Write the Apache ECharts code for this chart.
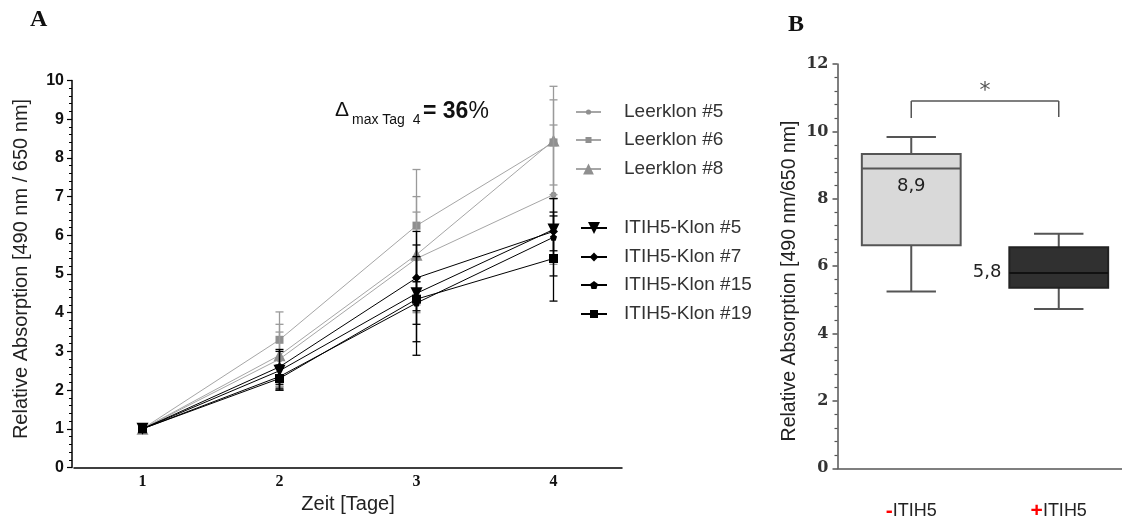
<!DOCTYPE html>
<html>
<head>
<meta charset="utf-8">
<script src="https://cdn.jsdelivr.net/npm/echarts@6/dist/echarts.min.js"></script>
<style>
  html, body { margin: 0; padding: 0; background: #ffffff; }
  #chart { width: 1122px; height: 521px; }
</style>
</head>
<body>
<div id="chart"></div>
<script>
// Panel A: growth curves, relative absorption per day (mean and SD)
const days = ['1', '2', '3', '4'];

const leerklon5 = [1.0, 2.8, 5.4, 7.05];
const leerklon5Sd = [0.05, 0.7, 1.2, 1.8];
const leerklon6 = [1.0, 3.3, 6.25, 8.4];
const leerklon6Sd = [0.05, 0.72, 1.45, 1.1];
const leerklon8 = [1.0, 2.9, 5.5, 8.45];
const leerklon8Sd = [0.08, 0.8, 1.5, 1.4];

const itih5Klon5 = [1.0, 2.5, 4.5, 6.15];
const itih5Klon5Sd = [0.05, 0.5, 1.6, 0.8];
const itih5Klon7 = [1.0, 2.6, 4.9, 6.1];
const itih5Klon7Sd = [0.06, 0.45, 0.85, 0.5];
const itih5Klon15 = [1.0, 2.35, 4.25, 5.95];
const itih5Klon15Sd = [0.05, 0.3, 0.55, 1.0];
const itih5Klon19 = [1.0, 2.3, 4.35, 5.4];
const itih5Klon19Sd = [0.07, 0.3, 1.1, 1.1];

// Panel B: day-4 box plots [min, q1, median, q3, max]
const boxCategories = ['-ITIH5', '+ITIH5'];
const boxWithout = [5.25, 6.62, 8.9, 9.33, 9.83];
const boxWith = [4.73, 5.36, 5.8, 6.56, 6.96];
// significance bracket: [fromIndex, toIndex, top, leftEnd, rightEnd]
const bracket = [0, 1, 10.9, 10.4, 10.43];
const bracketMark = '*';

const GREY_LINE = '#a6a6a6';
const GREY_MARK = '#8f8f8f';
const BLACK = '#000000';

function lineSeries(name, values, color, markColor, symbol, size, rotate, z) {
  return {
    type: 'line', name: name, data: values,
    xAxisIndex: 0, yAxisIndex: 0, z: z,
    symbol: symbol, symbolSize: size, symbolRotate: rotate || 0,
    showAllSymbol: true,
    lineStyle: { color: color, width: 1 },
    itemStyle: { color: markColor },
    emphasis: { disabled: true },
    animation: false
  };
}

function errorBars(name, values, sds, color, z) {
  return {
    type: 'custom', name: name, xAxisIndex: 0, yAxisIndex: 0, z: z, silent: true,
    data: values.map(function (v, i) { return [i, v + sds[i], v - sds[i]]; }),
    renderItem: function (params, api) {
      const hi = api.coord([api.value(0), api.value(1)]);
      const lo = api.coord([api.value(0), api.value(2)]);
      const w = 4;
      const style = { stroke: color, lineWidth: 1.3 };
      return {
        type: 'group',
        children: [
          { type: 'line', shape: { x1: hi[0], y1: hi[1], x2: lo[0], y2: lo[1] }, style: style },
          { type: 'line', shape: { x1: hi[0] - w, y1: hi[1], x2: hi[0] + w, y2: hi[1] }, style: style },
          { type: 'line', shape: { x1: lo[0] - w, y1: lo[1], x2: lo[0] + w, y2: lo[1] }, style: style }
        ]
      };
    },
    animation: false
  };
}

const boxFill = ['#d9d9d9', '#303030'];
const boxStroke = ['#555555', '#222222'];

const boxSeries = {
  type: 'custom', xAxisIndex: 1, yAxisIndex: 1, silent: true, z: 3,
  data: [[0].concat(boxWithout), [1].concat(boxWith)],
  renderItem: function (params, api) {
    const idx = api.value(0);
    const pMin = api.coord([idx, api.value(1)]);
    const pQ1 = api.coord([idx, api.value(2)]);
    const pMed = api.coord([idx, api.value(3)]);
    const pQ3 = api.coord([idx, api.value(4)]);
    const pMax = api.coord([idx, api.value(5)]);
    const band = api.size([1, 0])[0];
    const bw = band * 0.67;
    const cw = bw * 0.5;
    const cx = pMed[0];
    const line = { stroke: '#555555', lineWidth: 2 };
    const label = String(api.value(3).toFixed(1)).replace('.', ',');
    const children = [
      { type: 'line', shape: { x1: cx, y1: pMax[1], x2: cx, y2: pQ3[1] }, style: line },
      { type: 'line', shape: { x1: cx - cw / 2, y1: pMax[1], x2: cx + cw / 2, y2: pMax[1] }, style: line },
      { type: 'line', shape: { x1: cx, y1: pQ1[1], x2: cx, y2: pMin[1] }, style: line },
      { type: 'line', shape: { x1: cx - cw / 2, y1: pMin[1], x2: cx + cw / 2, y2: pMin[1] }, style: line },
      { type: 'rect', shape: { x: cx - bw / 2, y: pQ3[1], width: bw, height: pQ1[1] - pQ3[1] },
        style: { fill: boxFill[idx], stroke: boxStroke[idx], lineWidth: 2 } },
      { type: 'line', shape: { x1: cx - bw / 2, y1: pMed[1], x2: cx + bw / 2, y2: pMed[1] },
        style: { stroke: idx === 0 ? '#555555' : '#111111', lineWidth: 2 } }
    ];
    if (idx === 0) {
      children.push({ type: 'text', x: cx, y: pMed[1] + 18,
        style: { text: label, fill: '#222', font: '18px "DejaVu Sans"', align: 'center', verticalAlign: 'middle' } });
    } else {
      children.push({ type: 'text', x: cx - bw / 2 - 8, y: pMed[1] - 1,
        style: { text: label, fill: '#222', font: '18px "DejaVu Sans"', align: 'right', verticalAlign: 'middle' } });
    }
    return { type: 'group', children: children };
  },
  animation: false
};

const bracketSeries = {
  type: 'custom', xAxisIndex: 1, yAxisIndex: 1, silent: true, z: 3,
  data: [bracket],
  renderItem: function (params, api) {
    const a = api.coord([api.value(0), api.value(2)]);
    const b = api.coord([api.value(1), api.value(2)]);
    const aEnd = api.coord([api.value(0), api.value(3)]);
    const bEnd = api.coord([api.value(1), api.value(4)]);
    const st = { stroke: '#555555', lineWidth: 1.5 };
    return {
      type: 'group',
      children: [
        { type: 'line', shape: { x1: a[0], y1: a[1], x2: b[0], y2: b[1] }, style: st },
        { type: 'line', shape: { x1: a[0], y1: a[1], x2: aEnd[0], y2: aEnd[1] }, style: st },
        { type: 'line', shape: { x1: b[0], y1: b[1], x2: bEnd[0], y2: bEnd[1] }, style: st },
        { type: 'text', x: (a[0] + b[0]) / 2, y: a[1] - 10,
          style: { text: bracketMark, fill: '#555', font: '22px "DejaVu Sans"', align: 'center', verticalAlign: 'middle' } }
      ]
    };
  },
  animation: false
};

const pentagon = 'path://M0,-10 L9.5,-3.1 L5.9,8.1 L-5.9,8.1 L-9.5,-3.1 Z';

// one legend block per entry so that each icon keeps its own marker size
function legendEntry(name, left, top, iconH, iconW, textPad) {
  return {
    data: [name], orient: 'vertical', left: left, top: top, padding: 0,
    itemWidth: iconW, itemHeight: iconH, selectedMode: false,
    textStyle: { color: '#333333', fontSize: 19, lineHeight: 20, fontFamily: 'Liberation Sans', padding: [0, 0, 0, textPad] }
  };
}

const option = {
  backgroundColor: '#ffffff',
  animation: false,
  legend: [
    legendEntry('Leerklon #5', 575, 102, 6.5, 25, 18),
    legendEntry('Leerklon #6', 575, 130, 7.5, 25, 18),
    legendEntry('Leerklon #8', 575, 159, 13.5, 25, 18),
    legendEntry('ITIH5-Klon #5', 580, 218, 15, 26, 12),
    legendEntry('ITIH5-Klon #7', 580, 247, 11, 26, 12),
    legendEntry('ITIH5-Klon #15', 580, 275, 10, 26, 12),
    legendEntry('ITIH5-Klon #19', 580, 304, 10, 26, 12)
  ],
  grid: [
    { left: 74, width: 548, top: 80.5, bottom: 53.5, containLabel: false, outerBoundsMode: 'none' },
    { left: 837.5, width: 295, top: 64, bottom: 52.7, containLabel: false, outerBoundsMode: 'none' }
  ],
  xAxis: [
    {
      gridIndex: 0, type: 'category', data: days, boundaryGap: true,
      name: 'Zeit [Tage]', nameLocation: 'middle', nameGap: 27,
      nameTextStyle: { color: '#222', fontSize: 20, fontFamily: 'Liberation Sans' },
      axisLine: { lineStyle: { color: BLACK, width: 1.5 } },
      axisTick: { alignWithLabel: true, length: 5, lineStyle: { color: BLACK, width: 1.2 } },
      axisLabel: { color: '#111', fontSize: 16, fontWeight: 'bold', fontFamily: 'Liberation Serif', margin: 6 },
      splitLine: { show: false }
    },
    {
      gridIndex: 1, type: 'category', data: boxCategories, boundaryGap: true,
      axisLine: { lineStyle: { color: '#555', width: 1.5 } },
      axisTick: { alignWithLabel: true, length: 6, lineStyle: { color: '#555', width: 1.5 } },
      axisLabel: {
        margin: 32,
        formatter: function (v) {
          return '{s|' + v.charAt(0) + '}{t|' + v.slice(1) + '}';
        },
        rich: {
          s: { color: '#ff0000', fontSize: 21, fontWeight: 'bold', fontFamily: 'Liberation Sans' },
          t: { color: '#222', fontSize: 18, fontFamily: 'Liberation Sans' }
        }
      },
      splitLine: { show: false }
    }
  ],
  yAxis: [
    {
      gridIndex: 0, type: 'value', min: 0, max: 10, interval: 1, offset: 2,
      axisLine: { show: true, lineStyle: { color: BLACK, width: 1.5 } },
      axisTick: { show: true, length: 5, lineStyle: { color: BLACK, width: 1.2 } },
      minorTick: { show: true, splitNumber: 5, length: 3, lineStyle: { color: BLACK, width: 1 } },
      axisLabel: { color: '#111', fontSize: 16, fontWeight: 'bold', fontFamily: 'Liberation Sans', margin: 8 },
      splitLine: { show: false }, minorSplitLine: { show: false }
    },
    {
      gridIndex: 1, type: 'value', min: 0, max: 12, interval: 2,
      axisLine: { show: true, lineStyle: { color: '#555', width: 1.5 } },
      axisTick: { show: true, length: 5, lineStyle: { color: '#555', width: 1.5 } },
      minorTick: { show: true, splitNumber: 5, length: 3, lineStyle: { color: '#555', width: 1.2 } },
      axisLabel: { color: '#333', fontSize: 16, fontWeight: 'bold', fontFamily: 'DejaVu Serif', margin: 9 },
      splitLine: { show: false }, minorSplitLine: { show: false }
    }
  ],
  graphic: [
    { type: 'text', left: 30, top: 8, style: { text: 'A', font: 'bold 24px "Liberation Serif"', fill: '#111' } },
    { type: 'text', left: 788, top: 13, style: { text: 'B', font: 'bold 24px "Liberation Serif"', fill: '#111' } },
    { type: 'text', x: 335, y: 121, style: { text: 'Δ', font: '21px "Liberation Sans"', fill: '#111', verticalAlign: 'bottom' } },
    { type: 'text', x: 352, y: 127, style: { text: 'max Tag  4', font: '14px "Liberation Sans"', fill: '#111', verticalAlign: 'bottom' } },
    { type: 'text', x: 423, y: 123,
      style: {
        text: '{b|= 36}{p|%}', verticalAlign: 'bottom',
        rich: {
          b: { font: 'bold 23px "Liberation Sans"', fill: '#111' },
          p: { font: '23px "Liberation Sans"', fill: '#111' }
        }
      } },
    { type: 'text', x: 21, y: 269, rotation: Math.PI / 2,
      style: { text: 'Relative Absorption [490 nm / 650 nm]', font: '20px "Liberation Sans"', fill: '#222', align: 'center', verticalAlign: 'middle' } },
    { type: 'text', x: 790, y: 281, rotation: Math.PI / 2,
      style: { text: 'Relative Absorption [490 nm/650 nm]', font: '19.5px "Liberation Sans"', fill: '#222', align: 'center', verticalAlign: 'middle' } }
  ],
  series: [
    lineSeries('Leerklon #5', leerklon5, GREY_LINE, GREY_MARK, 'circle', 6, 0, 2),
    lineSeries('Leerklon #6', leerklon6, GREY_LINE, GREY_MARK, 'rect', 8, 0, 2),
    lineSeries('Leerklon #8', leerklon8, GREY_LINE, GREY_MARK, 'triangle', 12, 0, 2),
    errorBars('Leerklon #5 SD', leerklon5, leerklon5Sd, '#9a9a9a', 3),
    errorBars('Leerklon #6 SD', leerklon6, leerklon6Sd, '#9a9a9a', 3),
    errorBars('Leerklon #8 SD', leerklon8, leerklon8Sd, '#9a9a9a', 3),
    lineSeries('ITIH5-Klon #5', itih5Klon5, BLACK, BLACK, 'triangle', 12, 180, 4),
    lineSeries('ITIH5-Klon #7', itih5Klon7, BLACK, BLACK, 'diamond', 9, 0, 4),
    lineSeries('ITIH5-Klon #15', itih5Klon15, BLACK, BLACK, pentagon, 7, 0, 4),
    lineSeries('ITIH5-Klon #19', itih5Klon19, BLACK, BLACK, 'rect', 9, 0, 4),
    errorBars('ITIH5-Klon #5 SD', itih5Klon5, itih5Klon5Sd, BLACK, 5),
    errorBars('ITIH5-Klon #7 SD', itih5Klon7, itih5Klon7Sd, BLACK, 5),
    errorBars('ITIH5-Klon #15 SD', itih5Klon15, itih5Klon15Sd, BLACK, 5),
    errorBars('ITIH5-Klon #19 SD', itih5Klon19, itih5Klon19Sd, BLACK, 5),
    boxSeries,
    bracketSeries
  ]
};

const chart = echarts.init(document.getElementById('chart'), null, { renderer: 'canvas' });
chart.setOption(option);
</script>
</body>
</html>
